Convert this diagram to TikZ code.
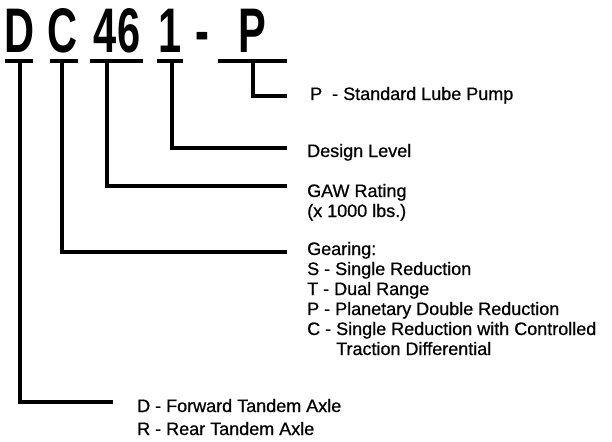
\documentclass[tikz,border=0pt]{standalone}
\usepackage{fontspec}
\setmainfont{Liberation Sans}
\newfontface\lblface{Liberation Sans}[FakeBold=0.7]
\begin{document}
\begin{tikzpicture}[x=1pt,y=-1pt,
  ln/.style={line width=3.2pt},
  big/.style={font=\fontsize{63}{63}\selectfont\bfseries, inner sep=0pt, anchor=base, xscale=0.66},
  lbl/.style={font=\lblface\fontsize{18}{20}\selectfont, inner sep=0pt, anchor=base west, align=left}]
\useasboundingbox (0,0) rectangle (612,441);
% title characters
\node[big] (cD) at (20,53) {D};
\node[big] (cC) at (63,53) {C};
\node[big] (c4) at (105,53) {4};
\node[big] (c6) at (129,53) {6};
\node[big] (c1) at (170,53) {1};
\node[big] (cdash) at (202.5,53) {-};
\node[big] (cP) at (252.5,53) {P};
% underline bars
\coordinate (bDa) at (5,61);   \coordinate (bDb) at (33,61);
\coordinate (bCa) at (50,61);  \coordinate (bCb) at (78,61);
\coordinate (b4a) at (90,61);  \coordinate (b4b) at (143,61);
\coordinate (b1a) at (157,61); \coordinate (b1b) at (183,61);
\coordinate (bPa) at (218,61); \coordinate (bPb) at (287,61);
\draw[ln] (bDa) -- (bDb);
\draw[ln] (bCa) -- (bCb);
\draw[ln] (b4a) -- (b4b);
\draw[ln] (b1a) -- (b1b);
\draw[ln] (bPa) -- (bPb);
% labels (base anchor of a multi-line node lies on its last line)
\node[lbl] (lP) at (310,100) {P\ \ - Standard Lube Pump};
\node[lbl] (lDes) at (307,157) {Design Level};
\node[lbl] (lGAW) at (307,217) {GAW Rating\\(x 1000 lbs.)};
\node[lbl] (lGear) at (307,355) {Gearing:\\S - Single Reduction\\T - Dual Range\\P - Planetary Double Reduction\\C - Single Reduction with Controlled\\\hphantom{C - }Traction Differential};
\node[lbl, font=\lblface\fontsize{18}{23}\selectfont] (lD) at (137,435) {D - Forward Tandem Axle\\R - Rear Tandem Axle};
% connectors
\coordinate (vP) at (253,61);  \coordinate (eP) at (287,96);
\coordinate (v1) at (172,61);  \coordinate (e1) at (287,148);
\coordinate (v4) at (107,61);  \coordinate (e4) at (287,186);
\coordinate (vC) at (62,61);   \coordinate (eC) at (287,252);
\coordinate (vD) at (20,61);   \coordinate (eD) at (113,402);
\draw[ln] (vP) |- (eP);
\draw[ln] (v1) |- (e1);
\draw[ln] (v4) |- (e4);
\draw[ln] (vC) |- (eC);
\draw[ln] (vD) |- (eD);
\end{tikzpicture}
\end{document}
